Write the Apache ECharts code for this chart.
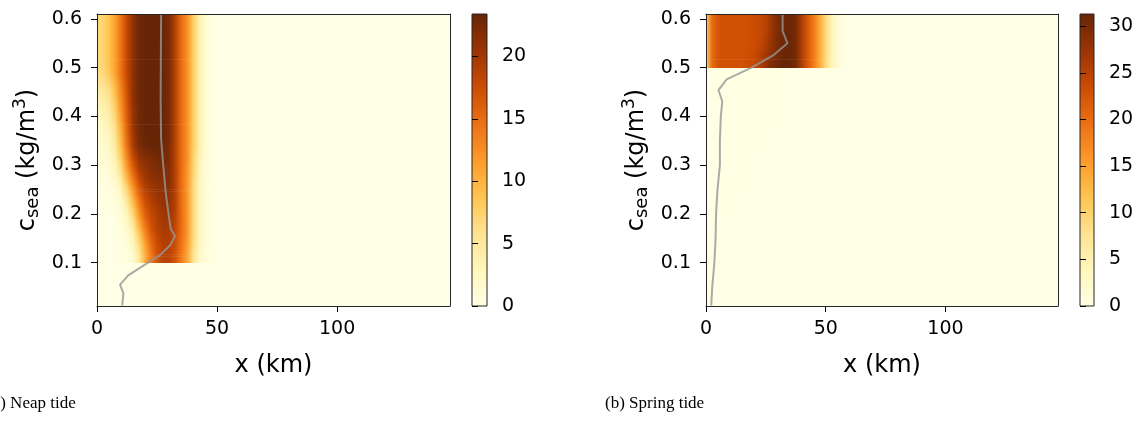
<!DOCTYPE html>
<html>
<head>
<meta charset="utf-8">
<script src="https://cdn.jsdelivr.net/npm/echarts@6/dist/echarts.min.js"></script>
<style>
  html, body { margin: 0; padding: 0; background: #ffffff; }
  #chart { width: 1138px; height: 441px; }
</style>
</head>
<body>
<div id="chart"></div>
<script>
// Grid of the concentration field: distance along the estuary (km) and sea concentration levels (kg/m^3, row centres)
const X_KM = [0, 2.5, 5, 7.5, 10, 12.5, 15, 17.5, 20, 22.5, 25, 27.5, 30, 32.5, 35, 37.5, 40, 42.5, 45, 47.5, 50, 52.5, 55, 57.5, 60];
const C_SEA = [0.0125, 0.0375, 0.0625, 0.0875, 0.1125, 0.1375, 0.1625, 0.1875, 0.2125, 0.2375, 0.2625, 0.2875, 0.3125,
               0.3375, 0.3625, 0.3875, 0.4125, 0.4375, 0.4625, 0.4875, 0.5125, 0.5375, 0.5625, 0.5875, 0.6125];

// Neap tide field, one row per c_sea level (bottom to top), one value per X_KM column
const NEAP = [
  [0,0,0,0,0,0,0,0,0,0,0,0,0,0,0,0,0,0,0,0,0,0,0,0,0],
  [0,0,0,0,0,0,0,0,0,0,0,0,0,0,0,0,0,0,0,0,0,0,0,0,0],
  [0,0,0,0,0,0,0,0,0,0,0,0,0,0,0,0,0,0,0,0,0,0,0,0,0],
  [0,0,0,0,0,0,0,0,0,0,0,0,0,0,0,0,0,0,0,0,0,0,0,0,0],
  [0,0,0,0,0.2,0.5,1.5,5,10,14,17,18.5,18.5,17,14,11,6,2.5,1,0.3,0,0,0,0,0],
  [0,0,0,0,0.3,0.8,2.5,6.5,11,15,17.5,19,19,17.5,14.5,11.5,6.5,3,1,0.3,0,0,0,0,0],
  [0,0,0,0.2,0.5,1.5,4,8.5,13,16.5,18.5,19.5,19.5,18,15,12,7,3,1,0.3,0,0,0,0,0],
  [0,0,0,0.3,1,2.5,6,11,15,17.5,19,20,20,18.5,15,12,7,3,1,0.3,0,0,0,0,0],
  [0,0,0.2,0.5,1.5,4,8,13,16.5,18.5,19.5,20.5,20.5,19,15,12,7,3,1,0.3,0,0,0,0,0],
  [0,0.2,0.4,0.8,2.5,6,10.5,15,18,19.5,20.5,21,21,19,15,12,7,3,1,0.3,0,0,0,0,0],
  [0.2,0.4,0.7,1.5,4,8.5,13,17,19.5,20.5,21,21.5,21.5,19,15,12,7,3,1,0.3,0,0,0,0,0],
  [0.5,0.8,1.2,2.5,6,11,15.5,19,20.5,21.5,22,22,21.5,19,15,12,7.5,3.5,1.2,0.4,0,0,0,0,0],
  [1,1.2,1.8,3.5,7.5,13,17.5,20.5,21.5,22,22.5,22.5,22,19,15,12.5,7.5,3.5,1.2,0.4,0,0,0,0,0],
  [1.3,1.6,2.4,4.5,9,14.5,19.5,22,23,23.2,23.3,23,22,19,15,12.5,8,4,1.5,0.5,0,0,0,0,0],
  [1.6,2,3,5.5,10,15.5,20,22.5,23.3,23.4,23.4,23.2,22.3,19,15,12.5,8,4,1.5,0.5,0,0,0,0,0],
  [2.2,2.7,3.8,6.5,11,16,20.5,22.8,23.3,23.4,23.4,23.2,22.3,19,15,12.5,8,4,1.5,0.5,0,0,0,0,0],
  [3,3.5,4.6,7.5,12,16.5,20.5,22.8,23.3,23.4,23.4,23.2,22.3,19,15,12.5,8,4,1.5,0.5,0,0,0,0,0],
  [4,4.5,5.6,8.5,12.8,17,21,22.9,23.3,23.4,23.4,23.2,22.3,19,15,12.5,8,4,1.5,0.5,0,0,0,0,0],
  [5,5.6,6.8,9.5,13.5,17.5,21,23,23.3,23.4,23.4,23.2,22.3,19,15,12.5,8,4,1.5,0.5,0,0,0,0,0],
  [6,6.8,8.2,11,14.5,18,21,23,23.3,23.4,23.4,23.2,22.3,19,15,12.5,8,4,1.5,0.5,0,0,0,0,0],
  [6.5,7.3,8.8,11.2,14.5,18,21,23,23.3,23.4,23.4,23.2,22.3,19,15,12.5,8,4,1.5,0.5,0,0,0,0,0],
  [6.5,7.3,8.8,11.2,14.5,18,21,23,23.3,23.4,23.4,23.2,22.3,19,15,12.5,8,4,1.5,0.5,0,0,0,0,0],
  [6.5,7.3,8.8,11.2,14.5,18,21,23,23.3,23.4,23.4,23.2,22.3,19,15,12.5,8,4,1.5,0.5,0,0,0,0,0],
  [6.5,7.3,8.8,11.2,14.5,18,21,23,23.3,23.4,23.4,23.2,22.3,19,15,12.5,8,4,1.5,0.5,0,0,0,0,0],
  [6.5,7.3,8.8,11.2,14.5,18,21,23,23.3,23.4,23.4,23.2,22.3,19,15,12.5,8,4,1.5,0.5,0,0,0,0,0]
];

// Spring tide field, same layout as NEAP
const SPRING = [
  [0,0,0,0,0,0,0,0,0,0,0,0,0,0,0,0,0,0,0,0,0,0,0,0,0],
  [0,0,0,0,0,0,0,0,0,0,0,0,0,0,0,0,0,0,0,0,0,0,0,0,0],
  [0,0,0,0,0,0,0,0,0,0,0,0,0,0,0,0,0,0,0,0,0,0,0,0,0],
  [0,0,0,0,0,0,0,0,0,0,0,0,0,0,0,0,0,0,0,0,0,0,0,0,0],
  [0,0,0,0,0,0,0,0,0,0,0,0,0,0,0,0,0,0,0,0,0,0,0,0,0],
  [0,0,0,0,0,0,0,0,0,0,0,0,0,0,0,0,0,0,0,0,0,0,0,0,0],
  [0,0,0,0,0,0,0,0,0,0,0,0,0,0,0,0,0,0,0,0,0,0,0,0,0],
  [0,0,0,0,0.1,0.1,0,0,0,0,0,0,0,0,0,0,0,0,0,0,0,0,0,0,0],
  [0,0,0,0.1,0.15,0.1,0,0,0,0,0,0,0,0,0,0,0,0,0,0,0,0,0,0,0],
  [0,0,0,0.1,0.15,0.15,0.1,0,0,0,0,0,0,0,0,0,0,0,0,0,0,0,0,0,0],
  [0,0,0,0.1,0.1,0.15,0.15,0.1,0,0,0,0,0,0,0,0,0,0,0,0,0,0,0,0,0],
  [0,0,0,0.1,0.1,0.1,0.15,0.15,0.1,0,0,0,0,0,0,0,0,0,0,0,0,0,0,0,0],
  [0,0,0,0.1,0.1,0.1,0.15,0.15,0.15,0.1,0,0,0,0,0,0,0,0,0,0,0,0,0,0,0],
  [0,0,0,0.1,0.1,0.1,0.1,0.15,0.15,0.15,0.1,0,0,0,0,0,0,0,0,0,0,0,0,0,0],
  [0,0,0,0.1,0.1,0.1,0.1,0.15,0.15,0.15,0.15,0.1,0,0,0,0,0,0,0,0,0,0,0,0,0],
  [0,0,0,0.1,0.1,0.1,0.1,0.1,0.15,0.15,0.15,0.15,0.1,0,0,0,0,0,0,0,0,0,0,0,0],
  [0,0,0,0.1,0.1,0.1,0.1,0.1,0.1,0.15,0.15,0.15,0.15,0.1,0,0,0,0,0,0,0,0,0,0,0],
  [0,0,0.1,0.1,0.1,0.1,0.1,0.1,0.1,0.1,0.15,0.15,0.15,0.1,0,0,0,0,0,0,0,0,0,0,0],
  [0,0,0.1,0.1,0.1,0.1,0.1,0.1,0.1,0.1,0.1,0.15,0.15,0.15,0.1,0,0,0,0,0,0,0,0,0,0],
  [0,0,0.1,0.1,0.1,0.1,0.1,0.1,0.1,0.1,0.1,0.1,0.15,0.15,0.1,0,0,0,0,0,0,0,0,0,0],
  [10,20,22.5,23,23,23,23,23.5,24,25.5,27.5,29.5,30.5,31.2,31,30,26,22,18.5,14,9,4.5,1.5,0.4,0],
  [10,20,22.5,23,23,23,23,23.2,23.5,24.5,26,28,30,31,31,30,26,22,18.5,14,9,4.5,1.5,0.4,0],
  [10,20,22.5,23,23,23,23,23.2,23.5,24,25.5,27.5,29.5,31,31,30,26,22,18.5,14,9,4.5,1.5,0.4,0],
  [10,20,22.5,23,23,23,23,23.2,23.5,24,25,27.5,29.5,31,31,30,26,22,18.5,14,9,4.5,1.5,0.4,0],
  [10,20,22.5,23,23,23,23,23.2,23.5,24,25,27.5,29.5,31,31,30,26,22,18.5,14,9,4.5,1.5,0.4,0]
];

// Grey curves: position x (km) against c_sea (kg/m^3)
const NEAP_CURVE_C = [0.012, 0.037, 0.055, 0.074, 0.094, 0.115, 0.135, 0.154, 0.169, 0.203, 0.244, 0.299, 0.353, 0.435, 0.61];
const NEAP_CURVE_X = [10.5, 11.0, 9.6, 13.0, 19.3, 26.2, 30.4, 32.5, 30.7, 29.7, 28.6, 27.6, 26.7, 26.5, 26.7];
const SPRING_CURVE_C = [0.012, 0.05, 0.1, 0.15, 0.2, 0.25, 0.3, 0.35, 0.4, 0.431, 0.454, 0.476, 0.5, 0.525, 0.55, 0.575, 0.61];
const SPRING_CURVE_X = [2.2, 2.6, 3.5, 4.0, 4.2, 4.8, 5.8, 5.8, 6.2, 6.8, 5.2, 8.6, 19.0, 28.0, 34.0, 32.0, 32.0];

// Axis ranges and tick labels
const X_RANGE = [0, 147];
const C_RANGE = [0.011, 0.61];
const X_TICKS = [0, 50, 100];
const C_TICKS = [0.1, 0.2, 0.3, 0.4, 0.5, 0.6];
const NEAP_VMAX = 23.4;
const SPRING_VMAX = 31.3;
const NEAP_CB_TICKS = [0, 5, 10, 15, 20];
const SPRING_CB_TICKS = [0, 5, 10, 15, 20, 25, 30];
const X_NAME = 'x (km)';
const C_NAME = 'c{sub|sea} (kg/m{sup|3})';
const CAPTIONS = ['(a) Neap tide', '(b) Spring tide'];

// YlOrBr colour ramp
const YLORBR = ['#ffffe5', '#fff7bc', '#fee391', '#fec44f', '#fe9929', '#ec7014', '#cc4c02', '#993404', '#662506'];

const FONT = 'DejaVu Sans';
const INK = '#000000';
const FRAME = '#262626';
const STRIPS_PER_HALF_ROW = 3;

function colourOf(v, vmax) {
  const t = Math.max(0, Math.min(1, v / vmax));
  return echarts.color.lerp(t, YLORBR);
}

// Each row is shaded as a smooth image (like a bilinear raster): across x with a gradient through
// the row's values, and towards the neighbouring row inside the plume; plume edges stay sharp.
function fieldRenderer(matrix, vmax) {
  const rowMax = matrix.map(r => Math.max.apply(null, r));
  return function (params, api) {
    const k = api.value(2);
    const cs = params.coordSys;
    const clipArea = { x: cs.x, y: cs.y, width: cs.width, height: cs.height };
    const xL = api.coord([X_KM[0], C_SEA[k]])[0];
    const xR = api.coord([X_KM[X_KM.length - 1], C_SEA[k]])[0];
    const offsets = X_KM.map(x => (api.coord([x, C_SEA[k]])[0] - xL) / (xR - xL));
    const children = [];
    [-1, 1].forEach(side => {
      const j = k + side;
      const hasNb = j >= 0 && j < C_SEA.length;
      const edgeC = hasNb ? (C_SEA[k] + C_SEA[j]) / 2
                          : C_SEA[k] + side * (C_SEA[1] - C_SEA[0]) / 2;
      const blend = hasNb && rowMax[k] > 0.5 && rowMax[j] > 0.5;
      const n = blend ? STRIPS_PER_HALF_ROW : 1;
      for (let m = 0; m < n; m++) {
        const f0 = m / n, f1 = (m + 1) / n;
        const c0 = C_SEA[k] + (edgeC - C_SEA[k]) * f0;
        const c1 = C_SEA[k] + (edgeC - C_SEA[k]) * f1;
        const w = blend ? 0.5 * (f0 + f1) / 2 : 0;
        const yA = api.coord([X_KM[0], c0])[1];
        const yB = api.coord([X_KM[0], c1])[1];
        const shape = echarts.graphic.clipRectByRect(
          { x: xL, y: Math.min(yA, yB) - 0.35, width: xR - xL, height: Math.abs(yA - yB) + 0.7 },
          clipArea
        );
        if (!shape) continue;
        const stops = matrix[k].map((v, i) => ({
          offset: offsets[i],
          color: colourOf(blend ? (1 - w) * v + w * matrix[j][i] : v, vmax)
        }));
        children.push({
          type: 'rect',
          shape: shape,
          style: { fill: new echarts.graphic.LinearGradient(xL, 0, xR, 0, stops, true) }
        });
      }
    });
    return { type: 'group', children: children };
  };
}

function colourbarRenderer(params, api) {
  const top = api.coord([0, api.value(1)]);
  const bottom = api.coord([1, api.value(0)]);
  const stops = YLORBR.map((c, i) => ({ offset: 1 - i / (YLORBR.length - 1), color: c })).reverse();
  return {
    type: 'rect',
    shape: { x: top[0], y: top[1], width: bottom[0] - top[0], height: bottom[1] - top[1] },
    style: {
      fill: new echarts.graphic.LinearGradient(0, 0, 0, 1, stops),
      stroke: FRAME,
      lineWidth: 1
    }
  };
}

function curve(xs, cs) {
  return xs.map((x, i) => [x, cs[i]]);
}

const tickText = { fontFamily: FONT, fontSize: 19, color: INK };

function mainXAxis(gridIndex) {
  return {
    type: 'value', gridIndex, min: X_RANGE[0], max: X_RANGE[1], position: 'bottom', z: 5,
    name: X_NAME, nameLocation: 'middle', nameGap: 48,
    nameTextStyle: { fontFamily: FONT, fontSize: 24, color: INK },
    axisLine: { show: true, onZero: false, lineStyle: { color: FRAME, width: 1 } },
    axisTick: { show: true, inside: false, length: 6, lineStyle: { color: INK }, customValues: X_TICKS },
    axisLabel: Object.assign({ margin: 14, customValues: X_TICKS }, tickText),
    splitLine: { show: false }
  };
}
function frameXAxis(gridIndex) {
  return {
    type: 'value', gridIndex, min: X_RANGE[0], max: X_RANGE[1], position: 'top', z: 5,
    axisLine: { show: true, onZero: false, lineStyle: { color: FRAME, width: 1 } },
    axisTick: { show: false }, axisLabel: { show: false }, splitLine: { show: false }
  };
}
function mainYAxis(gridIndex) {
  return {
    type: 'value', gridIndex, min: C_RANGE[0], max: C_RANGE[1], position: 'left', z: 5,
    name: C_NAME, nameLocation: 'middle', nameGap: 54, nameRotate: 90,
    nameTextStyle: {
      fontFamily: FONT, fontSize: 24, color: INK,
      rich: {
        sub: { fontFamily: FONT, fontSize: 18, color: INK, padding: [12, 0, 0, 0] },
        sup: { fontFamily: FONT, fontSize: 17, color: INK, padding: [0, 0, 14, 0] }
      }
    },
    axisLine: { show: true, onZero: false, lineStyle: { color: FRAME, width: 1 } },
    axisTick: { show: true, inside: false, length: 6, lineStyle: { color: INK }, customValues: C_TICKS },
    axisLabel: Object.assign({ margin: 15, customValues: C_TICKS, formatter: v => v.toFixed(1) }, tickText),
    splitLine: { show: false }
  };
}
function frameYAxis(gridIndex) {
  return {
    type: 'value', gridIndex, min: C_RANGE[0], max: C_RANGE[1], position: 'right', z: 5,
    axisLine: { show: true, onZero: false, lineStyle: { color: FRAME, width: 1 } },
    axisTick: { show: false }, axisLabel: { show: false }, splitLine: { show: false }
  };
}
function barXAxis(gridIndex) {
  return { type: 'value', gridIndex, min: 0, max: 1, show: false };
}
function barYAxis(gridIndex, vmax, ticks) {
  return {
    type: 'value', gridIndex, min: 0, max: vmax, position: 'right', z: 5,
    axisLine: { show: false },
    axisTick: { show: true, inside: false, length: 6, lineStyle: { color: INK }, customValues: ticks },
    axisLabel: Object.assign({ margin: 15, customValues: ticks }, tickText),
    splitLine: { show: false }
  };
}

const grids = [
  { left: 97, top: 14, width: 353, height: 292, show: true, backgroundColor: YLORBR[0], borderWidth: 0 },
  { left: 472, top: 14, width: 15, height: 292 },
  { left: 706, top: 14, width: 352, height: 292, show: true, backgroundColor: YLORBR[0], borderWidth: 0 },
  { left: 1080, top: 14, width: 14, height: 292 }
];

const curveStyle = { color: 'rgba(150,150,150,0.8)', width: 2 };
const rowItems = C_SEA.map((c, k) => [X_KM[0], c, k]);

const option = {
  animation: false,
  backgroundColor: '#ffffff',
  grid: grids,
  xAxis: [mainXAxis(0), frameXAxis(0), barXAxis(1), mainXAxis(2), frameXAxis(2), barXAxis(3)],
  yAxis: [mainYAxis(0), frameYAxis(0), barYAxis(1, NEAP_VMAX, NEAP_CB_TICKS),
          mainYAxis(2), frameYAxis(2), barYAxis(3, SPRING_VMAX, SPRING_CB_TICKS)],
  series: [
    {
      type: 'custom', name: 'Neap field', xAxisIndex: 0, yAxisIndex: 0, silent: true, progressive: 0,
      encode: { x: 0, y: 1 }, renderItem: fieldRenderer(NEAP, NEAP_VMAX), data: rowItems, z: 2
    },
    {
      type: 'line', name: 'Neap curve', xAxisIndex: 0, yAxisIndex: 0, silent: true,
      showSymbol: false, symbol: 'none', lineStyle: curveStyle, data: curve(NEAP_CURVE_X, NEAP_CURVE_C), z: 3
    },
    {
      type: 'custom', name: 'Neap colourbar', xAxisIndex: 2, yAxisIndex: 2, silent: true,
      renderItem: colourbarRenderer, data: [[0, NEAP_VMAX]]
    },
    {
      type: 'custom', name: 'Spring field', xAxisIndex: 3, yAxisIndex: 3, silent: true, progressive: 0,
      encode: { x: 0, y: 1 }, renderItem: fieldRenderer(SPRING, SPRING_VMAX), data: rowItems, z: 2
    },
    {
      type: 'line', name: 'Spring curve', xAxisIndex: 3, yAxisIndex: 3, silent: true,
      showSymbol: false, symbol: 'none', lineStyle: curveStyle, data: curve(SPRING_CURVE_X, SPRING_CURVE_C), z: 3
    },
    {
      type: 'custom', name: 'Spring colourbar', xAxisIndex: 5, yAxisIndex: 5, silent: true,
      renderItem: colourbarRenderer, data: [[0, SPRING_VMAX]]
    }
  ],
  graphic: [
    { type: 'text', x: -13, y: 404, style: { text: CAPTIONS[0], font: '17px "Liberation Serif"', fill: INK, verticalAlign: 'middle' } },
    { type: 'text', x: 605, y: 404, style: { text: CAPTIONS[1], font: '17px "Liberation Serif"', fill: INK, verticalAlign: 'middle' } }
  ]
};

const chart = echarts.init(document.getElementById('chart'), null, { renderer: 'canvas' });
chart.setOption(option);
</script>
</body>
</html>
